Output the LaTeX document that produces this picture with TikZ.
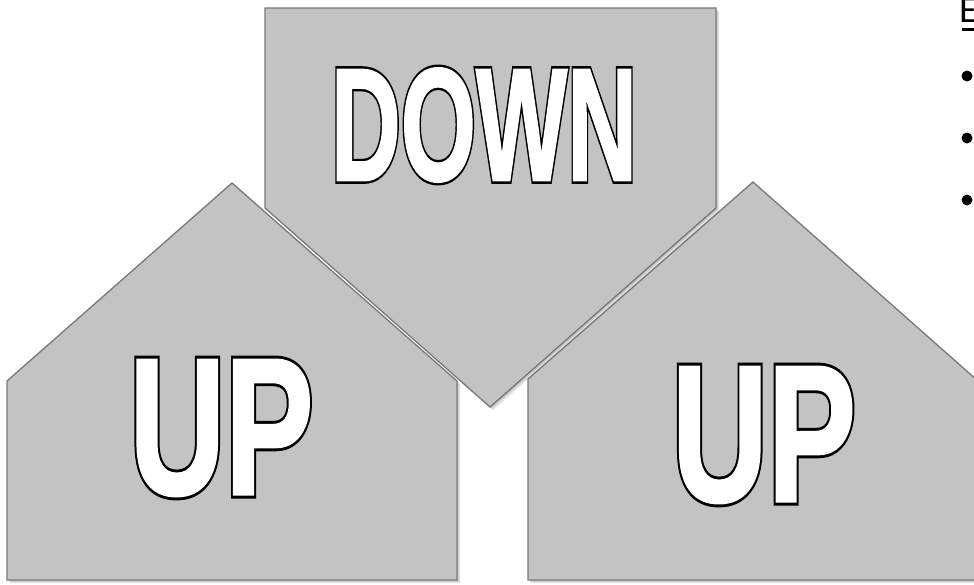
\documentclass[tikz,border=0pt]{standalone}
\usepackage{fontspec}
\setmainfont{Liberation Sans}
\newfontfamily\bodyfont{Carlito}
\newfontfamily\wordfont[RawFeature={embolden=1.5}]{Liberation Sans Bold}
\newfontfamily\fatfont[RawFeature={embolden=4.5}]{Liberation Sans Bold}
\usepackage{graphicx}
\definecolor{shapefill}{RGB}{195,195,195}
\definecolor{shapeedge}{RGB}{120,120,120}
\newcommand{\bigword}[3]{\makebox[0pt]{\resizebox{#1pt}{#2pt}{\fatfont #3}}\makebox[0pt]{\color{white}\resizebox{#1pt}{#2pt}{\wordfont #3}}}
\begin{document}
\begin{tikzpicture}[x=1pt,y=-1pt,
  shapebox/.style={fill=shapefill, draw=shapeedge, line width=1.3pt, line join=miter},
  shadowbox/.style={fill=black, draw=none, opacity=0.12},
  wordnode/.style={inner sep=0pt, outer sep=0pt, anchor=center},
  dotnode/.style={circle, fill=black, inner sep=0pt, minimum size=11pt}]
\useasboundingbox (0,0) rectangle (974,584);
\clip (0,0) rectangle (974,584);
\fill[white] (0,0) rectangle (974,584);
% DOWN shape
\foreach \d in {1.5,3} {
  \fill[shadowbox] ([shift={(\d,\d)}]265,8) -- ([shift={(\d,\d)}]716,8) -- ([shift={(\d,\d)}]716,208) -- ([shift={(\d,\d)}]490,407) -- ([shift={(\d,\d)}]265,208) -- cycle;
}
\draw[shapebox] (265,8) -- (716,8) -- (716,208) -- (490,407) -- (265,208) -- cycle;
% left UP shape
\foreach \d in {1.5,3} {
  \fill[shadowbox] ([shift={(\d,\d)}]7,580) -- ([shift={(\d,\d)}]457,580) -- ([shift={(\d,\d)}]457,381) -- ([shift={(\d,\d)}]232,183) -- ([shift={(\d,\d)}]7,381) -- cycle;
}
\draw[shapebox] (7,580) -- (457,580) -- (457,381) -- (232,183) -- (7,381) -- cycle;
% right UP shape
\foreach \d in {1.5,3} {
  \fill[shadowbox] ([shift={(\d,\d)}]528,580) -- ([shift={(\d,\d)}]978,580) -- ([shift={(\d,\d)}]978,381) -- ([shift={(\d,\d)}]753,182) -- ([shift={(\d,\d)}]528,379) -- cycle;
}
\draw[shapebox] (528,580) -- (978,580) -- (978,381) -- (753,182) -- (528,379) -- cycle;
% words
\node[wordnode] (down) at (484,125) {\bigword{306}{112}{DOWN}};
\node[wordnode] (upl) at (221.5,428) {\bigword{184}{134}{UP}};
\node[wordnode] (upr) at (764,435) {\bigword{184}{134}{UP}};
% clipped text column at right
\node[anchor=base west, inner sep=0pt, font=\bodyfont\fontsize{38}{44}\selectfont] (title) at (959,22) {E};
\coordinate (ulA) at (962,29.5);
\coordinate (ulB) at (974,29.5);
\draw[line width=3pt] (ulA) -- (ulB);
\node[dotnode] (b1) at (967,76) {};
\node[dotnode] (b2) at (967,138) {};
\node[dotnode] (b3) at (967,200) {};
\end{tikzpicture}
\end{document}
